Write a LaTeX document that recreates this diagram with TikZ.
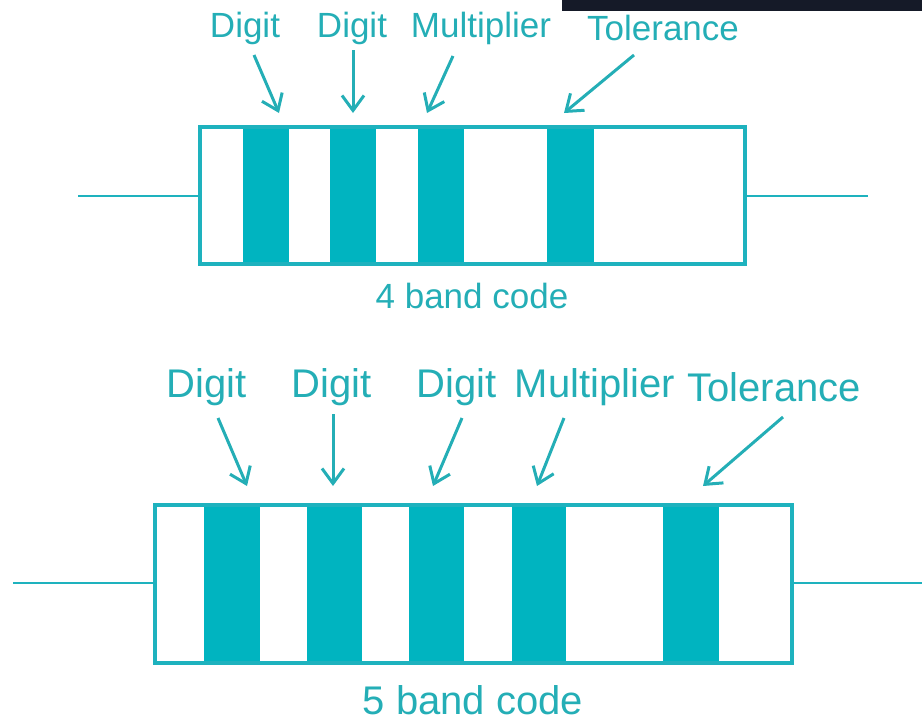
\documentclass[tikz,border=0pt]{standalone}
\usepackage{fontspec}
\setmainfont{Liberation Sans}
\usetikzlibrary{arrows.meta}
\definecolor{bandteal}{RGB}{0,180,192}
\definecolor{wireteal}{RGB}{30,178,190}
\definecolor{labelteal}{RGB}{36,174,182}
\definecolor{topbar}{RGB}{21,26,40}
\tikzset{
  lbl/.style={text=labelteal, anchor=base, inner sep=0pt, font=\fontsize{35}{35}\selectfont},
  lblbig/.style={lbl, font=\fontsize{40}{40}\selectfont},
  pointer/.style={draw=labelteal, line width=3pt, -{Straight Barb[length=15pt,width=22pt]}},
  body/.style={draw=wireteal, line width=3.2pt},
  lead/.style={draw=wireteal, line width=2.8pt},
}
\begin{document}
\begin{tikzpicture}[x=1pt, y=-1pt]
  \useasboundingbox (0,0) rectangle (922,721);
  \fill[topbar] (562,0) rectangle (922,11);

  % 4 band resistor
  \draw
    (245,37) node[lbl] (d1){Digit}
    (352,37) node[lbl] (d2){Digit}
    (481,37) node[lbl] (m4){Multiplier}
    (663,40) node[lbl] (t4){Tolerance}
    (472,308) node[lbl] (c4){4 band code};
  \coordinate (d1s) at (254,55);  \coordinate (d1e) at (279,113);
  \coordinate (d2s) at (353,50);  \coordinate (d2e) at (353,113);
  \coordinate (m4s) at (453,56);  \coordinate (m4e) at (427,113);
  \coordinate (t4s) at (634,55);  \coordinate (t4e) at (564,113);
  \begin{scope}[fill=bandteal]
    \fill (243,127) rectangle (289,264);
    \fill (330,127) rectangle (376,264);
    \fill (418,127) rectangle (464,264);
    \fill (547,127) rectangle (594,264);
  \end{scope}
  \draw[body] (200,127) rectangle (745,264);
  \draw[lead] (78,196) -- (200,196);
  \draw[lead] (745,196) -- (868,196);
  \begin{scope}[pointer]
    \draw (d1s) to (d1e);
    \draw (d2s) to (d2e);
    \draw (m4s) to (m4e);
    \draw (t4s) to (t4e);
  \end{scope}

  % 5 band resistor
  \draw
    (207,397) node[lblbig] (e1){Digit}
    (332,397) node[lblbig] (e2){Digit}
    (457,397) node[lblbig] (e3){Digit}
    (595,397) node[lblbig] (m5){Multiplier}
    (774,401) node[lblbig] (t5){Tolerance}
    (473,714) node[lblbig] (c5){5 band code};
  \coordinate (e1s) at (218,418); \coordinate (e1e) at (247,486);
  \coordinate (e2s) at (333,414); \coordinate (e2e) at (333,486);
  \coordinate (e3s) at (462,418); \coordinate (e3e) at (433,486);
  \coordinate (m5s) at (564,418); \coordinate (m5e) at (537,486);
  \coordinate (t5s) at (783,417); \coordinate (t5e) at (703,486);
  \begin{scope}[fill=bandteal]
    \fill (204,505) rectangle (260,663);
    \fill (307,505) rectangle (362,663);
    \fill (409,505) rectangle (464,663);
    \fill (512,505) rectangle (566,663);
    \fill (663,505) rectangle (719,663);
  \end{scope}
  \draw[body] (155,505) rectangle (792,663);
  \draw[lead] (13,583) -- (155,583);
  \draw[lead] (792,583) -- (922,583);
  \begin{scope}[pointer]
    \draw (e1s) to (e1e);
    \draw (e2s) to (e2e);
    \draw (e3s) to (e3e);
    \draw (m5s) to (m5e);
    \draw (t5s) to (t5e);
  \end{scope}
\end{tikzpicture}
\end{document}
